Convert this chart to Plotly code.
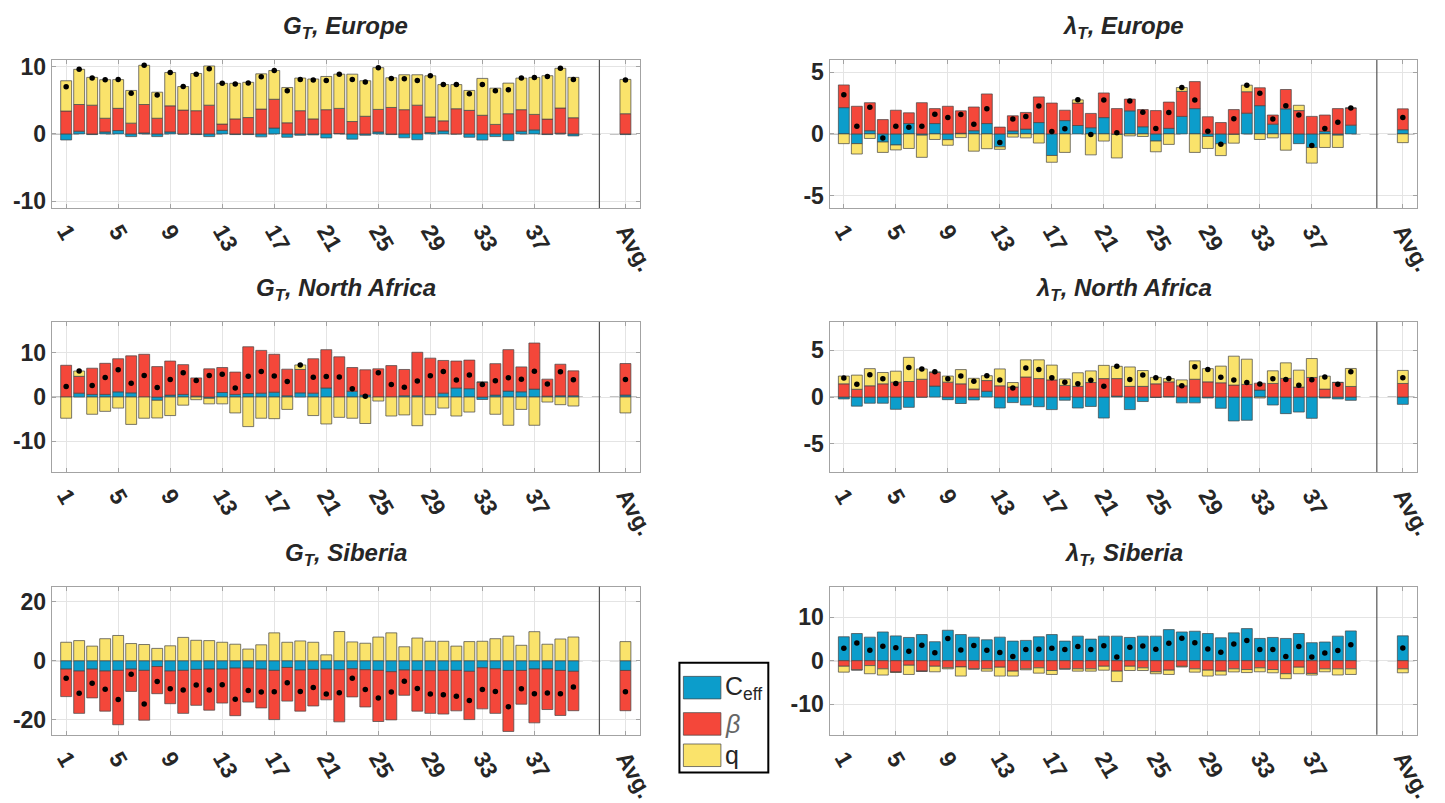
import plotly.graph_objects as go
from plotly.subplots import make_subplots

# ---------------- data (40 models + multi-model average) ----------------
tick_positions = [1, 5, 9, 13, 17, 21, 25, 29, 33, 37, 44]
tick_labels = ["1", "5", "9", "13", "17", "21", "25", "29", "33", "37", "Avg."]
n_models = 40
avg_position = 44
separator_position = 42

# G_T, Europe
ge_ceff = [-0.9, 0.4, -0.1, 0.3, 0.5, -0.4, 0.15, -0.4, 0.3, 0.0, -0.1, -0.4, 0.53, -0.1, -0.1, -0.44, 0.87, -0.5, -0.2, -0.15,
           -0.6, 0.05, -0.78, -0.2, 0.29, -0.1, -0.58, -0.87, 0.2, 0.44, 0.0, -0.5, -0.92, -0.4, -1.0, 0.4, 0.6, -0.1, 0.1, -0.3, -0.1]
ge_beta = [3.4, 3.97, 4.27, 2.03, 3.3, 1.6, 4.22, 2.33, 3.87, 3.54, 3.45, 4.27, 0.93, 2.23, 2.43, 3.69, 4.28, 1.65, 3.45, 2.23,
           3.6, 3.74, 1.84, 2.62, 3.35, 3.93, 3.6, 4.27, 2.32, 1.5, 3.74, 3.5, 2.77, 1.41, 3.0, 3.2, 2.3, 2.2, 3.75, 2.4, 3.0]
ge_q = [4.5, 5.23, 4.13, 5.73, 4.27, 4.86, 5.83, 3.87, 4.96, 3.5, 5.53, 5.83, 6.06, 5.29, 5.24, 5.24, 4.27, 5.25, 4.85, 5.93,
        4.94, 5.09, 7.04, 5.28, 6.21, 4.42, 5.19, 4.52, 6.12, 5.39, 3.59, 2.96, 5.48, 5.39, 4.55, 4.7, 5.5, 6.45, 5.9, 6.0, 5.1]

# lambda_T, Europe
le_ceff = [2.13, -0.79, 0.26, -0.66, -0.9, 0.84, -0.1, 0.84, -0.47, 0.05, 0.26, 0.84, -1.05, 0.24, 0.39, 0.92, -1.75, 1.08, 0.68, 0.5,
           1.32, -0.05, 1.87, 0.58, -0.58, 0.45, 1.42, 2.05, -0.21, -0.8, -0.05, 1.68, 2.29, 0.79, 2.03, -0.79, -1.1, 0.2, -0.1, 0.71, 0.34]
le_beta = [1.84, 2.24, 2.27, 1.16, 1.92, 0.87, 2.53, 1.21, 2.24, 1.82, 1.92, 2.4, 0.55, 1.23, 1.35, 2.08, 2.5, 0.84, 1.82, 1.16,
           2.0, 2.05, 0.95, 1.39, 1.89, 2.13, 2.03, 2.19, 1.39, 0.92, 1.97, 1.74, 1.45, 0.74, 1.57, 1.89, 1.42, 1.33, 2.05, 1.39, 1.69]
le_q = [-0.79, -0.84, -0.37, -0.84, -0.4, -1.18, -1.8, -0.45, -0.45, -0.3, -1.4, -1.2, -0.2, -0.26, -0.32, -0.74, -0.55, -1.5, 0.26, -1.7,
        -0.58, -1.9, -0.16, -0.21, -0.87, -0.85, 0.31, -1.5, -0.97, -0.96, -0.7, 0.53, -0.45, -0.32, -1.32, 0.43, -1.27, -1.1, -1.0, 0.0, -0.71]

# G_T, North Africa
gn_ceff = [0.0, 0.88, 0.6, 0.6, 1.18, 0.96, 0.0, -0.74, 0.44, 0.6, 0.2, -0.3, 1.03, 0.6, 0.8, 0.88, 1.1, 0.3, 0.96, 0.88,
           2.06, 0.0, 1.32, 0.44, 0.0, 0.0, 0.3, 0.3, 0.0, 0.88, 2.06, 1.9, -0.55, 0.44, 1.35, 1.2, 1.8, 0.2, 0.3, 0.3, 0.45]
gn_beta = [7.2, 3.82, 5.94, 7.05, 7.5, 8.38, 9.7, 6.9, 7.72, 6.75, 4.14, 6.4, 5.66, 5.06, 10.6, 9.7, 8.6, 6.02, 5.29, 7.8,
           8.68, 9.12, 5.37, 5.74, 6.4, 7.13, 5.95, 9.85, 8.82, 7.42, 6.1, 6.48, 3.38, 7.13, 9.4, 5.64, 10.45, 3.86, 7.14, 5.64, 7.15]
gn_q = [-4.8, 1.2, -3.9, -3.24, -2.5, -6.2, -4.8, -4.0, -4.2, -1.84, -0.6, -1.24, -1.54, -3.6, -6.7, -4.8, -4.9, -2.8, 1.03, -4.2,
        -6.1, -4.6, -4.8, -6.0, -0.9, -4.3, -4.05, -6.5, -4.0, -2.5, -4.3, -3.4, 0.0, -3.9, -6.4, -2.8, -6.4, -1.13, -1.73, -2.03, -3.6]

# lambda_T, North Africa
ln_ceff = [-0.2, -0.97, -0.66, -0.66, -1.31, -1.1, 0.0, 1.17, -0.28, -0.69, -0.31, 0.62, -1.17, -0.59, -0.86, -1.03, -1.34, -0.34, -1.17, -1.0,
           -2.24, 0.1, -1.34, -0.48, -0.05, 0.05, -0.62, -0.62, -0.1, -1.2, -2.55, -2.48, 0.74, -0.85, -1.77, -1.6, -2.27, -0.1, -0.2, -0.35, -0.78]
ln_beta = [1.41, 0.83, 1.2, 1.41, 1.59, 1.66, 1.9, 1.45, 1.59, 1.41, 0.86, 1.14, 1.2, 1.07, 2.14, 1.97, 1.83, 1.24, 1.14, 1.55,
           1.97, 1.87, 1.14, 1.14, 1.41, 1.57, 1.2, 1.9, 1.62, 1.52, 1.28, 1.35, 0.74, 1.45, 1.99, 1.06, 2.09, 0.85, 1.56, 1.13, 1.45]
ln_q = [0.83, 1.51, 1.83, 1.21, 1.17, 2.58, 1.1, 0.07, 0.65, 1.52, 1.14, 0.52, 1.8, 0.48, 1.83, 2.0, 1.58, 0.69, 1.45, 1.24,
        1.41, 1.31, 2.07, 1.69, 0.69, 0.35, 0.63, 1.96, 1.41, 1.78, 3.08, 2.69, -0.1, 1.35, 1.66, 1.81, 2.02, 1.38, 0.0, 1.92, 1.39]

# G_T, Siberia
gs_ceff = [-2.84, -3.5, -2.84, -3.5, -3.28, -2.84, -3.28, -1.97, -3.5, -3.28, -2.95, -2.84, -2.84, -2.51, -2.51, -2.84, -3.28, -2.3, -3.17, -2.95,
           -2.84, -3.06, -2.73, -3.06, -3.28, -3.72, -3.17, -3.28, -3.39, -3.28, -3.28, -3.6, -2.4, -2.73, -3.3, -3.3, -2.8, -2.8, -3.3, -3.6, -3.3]
gs_beta = [-9.29, -14.3, -9.73, -13.55, -18.36, -7.54, -16.82, -9.18, -11.04, -14.52, -12.13, -13.88, -11.48, -16.07, -11.48, -13.12, -16.62, -11.36, -13.88, -12.35,
           -10.38, -17.6, -9.51, -12.57, -17.27, -16.28, -8.52, -13.77, -14.41, -14.75, -13.66, -16.3, -13.88, -15.07, -20.6, -11.4, -18.2, -13.7, -15.2, -13.3, -13.6]
gs_q = [6.23, 6.78, 4.92, 7.43, 8.52, 5.79, 5.46, 4.15, 5.03, 7.87, 6.89, 6.78, 6.23, 5.57, 3.93, 5.36, 9.4, 6.23, 6.67, 6.23,
        1.97, 9.84, 6.34, 5.9, 7.98, 9.4, 4.7, 7.65, 6.56, 6.56, 4.92, 6.45, 6.56, 7.43, 8.3, 5.2, 9.8, 5.56, 7.33, 8.0, 6.44]

# lambda_T, Siberia
ls_ceff = [5.5, 6.24, 5.41, 6.6, 5.7, 5.34, 6.0, 4.36, 7.0, 6.0, 5.41, 4.8, 5.41, 4.5, 4.66, 5.5, 6.0, 4.5, 5.64, 4.96,
           5.64, 5.64, 5.34, 5.64, 5.64, 7.14, 6.6, 6.77, 6.24, 5.26, 6.39, 7.37, 5.11, 5.34, 5.11, 6.24, 4.14, 4.29, 5.64, 6.84, 5.71]
ls_beta = [-1.28, -2.1, -1.13, -1.88, -2.6, -1.05, -2.4, -1.28, -1.65, -1.43, -1.88, -1.88, -1.5, -2.4, -1.88, -1.65, -2.26, -1.88, -1.88, -1.88,
           -1.28, -2.4, -1.28, -1.65, -2.55, -2.18, -1.3, -1.88, -2.18, -2.4, -1.88, -2.03, -1.65, -2.03, -3.0, -1.5, -2.93, -1.88, -1.88, -1.88, -1.88]
ls_q = [-1.35, -0.05, -1.87, -1.42, -0.1, -2.11, -0.05, -1.27, -0.23, -2.1, -0.05, -0.52, -2.03, -1.13, -0.22, -1.21, -0.9, -0.05, -0.52, -0.52,
        -0.9, -2.4, -0.98, -0.61, -0.45, -0.98, -0.15, -0.75, -1.35, -0.9, -0.7, -0.7, -0.9, -0.75, -1.14, -1.5, -0.37, -0.67, -1.4, -1.28, -0.9]

panels = [
    ("G", "Europe", ge_ceff, ge_beta, ge_q, 11, [-10, 0, 10]),
    ("λ", "Europe", le_ceff, le_beta, le_q, 6, [-5, 0, 5]),
    ("G", "North Africa", gn_ceff, gn_beta, gn_q, 17, [-10, 0, 10]),
    ("λ", "North Africa", ln_ceff, ln_beta, ln_q, 8, [-5, 0, 5]),
    ("G", "Siberia", gs_ceff, gs_beta, gs_q, 25, [-20, 0, 20]),
    ("λ", "Siberia", ls_ceff, ls_beta, ls_q, 17, [-10, 0, 10]),
]

# ---------------- styling ----------------
W, H = 1445, 803
C_BLUE = "#0C9DCB"
C_RED = "#F4473A"
C_YEL = "#FAE36B"
EDGE = "rgba(70,70,70,0.9)"
GRID = "#e4e4e4"
FRAME = "#a3a3a3"
TXT = "#262626"
FONT = "Liberation Sans"

x_pos = list(range(1, n_models + 1)) + [avg_position]

col_px = [(52.5, 647.8), (840.0, 1435.0)]
row_px = [(55.0, 206.0), (322.5, 475.5), (592.5, 743.5)]

fig = make_subplots(rows=3, cols=2)

for idx, (sym, region, ceff, beta, q, ylim, yt) in enumerate(panels):
    r, c = idx // 2 + 1, idx % 2 + 1
    n = idx + 1
    total = [a + b + d for a, b, d in zip(ceff, beta, q)]
    for vals, col in ((ceff, C_BLUE), (beta, C_RED), (q, C_YEL)):
        fig.add_trace(go.Bar(x=x_pos, y=vals, width=0.84, marker=dict(color=col, line=dict(color=EDGE, width=0.8)),
                             showlegend=False, hoverinfo="skip"), row=r, col=c)
    fig.add_trace(go.Scatter(x=x_pos, y=total, mode="markers", marker=dict(color="black", size=5.5),
                             showlegend=False, hoverinfo="skip"), row=r, col=c)

    x0, x1 = col_px[c - 1]
    y0, y1 = row_px[r - 1]
    xa = "xaxis" if n == 1 else f"xaxis{n}"
    ya = "yaxis" if n == 1 else f"yaxis{n}"
    fig.layout[xa].update(domain=[x0 / W, x1 / W], range=[-0.1, 45.1], tickmode="array",
                          tickvals=tick_positions, ticktext=tick_labels, tickangle=60,
                          tickfont=dict(family=FONT, size=23, color=TXT, weight="bold"),
                          showgrid=True, gridcolor=GRID, gridwidth=1, zeroline=False,
                          showline=True, linecolor=FRAME, linewidth=1.2, mirror="ticks",
                          ticks="inside", ticklen=4, tickcolor=FRAME)
    fig.layout[ya].update(domain=[1 - y1 / H, 1 - y0 / H], range=[-ylim, ylim], tickmode="array",
                          tickvals=yt, ticktext=[str(v) for v in yt],
                          tickfont=dict(family=FONT, size=23, color=TXT, weight="bold"),
                          showgrid=True, gridcolor=GRID, gridwidth=1, zeroline=False,
                          showline=True, linecolor=FRAME, linewidth=1.2, mirror="ticks",
                          ticks="inside", ticklen=4, tickcolor=FRAME)

    xr = "x" if n == 1 else f"x{n}"
    yr = "y" if n == 1 else f"y{n}"
    # baseline
    fig.add_shape(type="line", xref=f"{xr} domain", yref=yr, x0=0, x1=1, y0=0, y1=0,
                  line=dict(color="#8a8a8a", width=1.3, dash="dash"), layer="below")
    # separator before average
    fig.add_shape(type="line", xref=xr, yref=f"{yr} domain", x0=separator_position, x1=separator_position, y0=0, y1=1,
                  line=dict(color="#555555", width=1.2))

    # panel title
    fig.add_annotation(x=(x0 + x1) / 2 / W, y=1 - (y0 - 33) / H, xref="paper", yref="paper",
                       text=f"<b><i>{sym}<sub>T</sub>, {region}</i></b>", showarrow=False,
                       font=dict(family=FONT, size=24, color=TXT), xanchor="center", yanchor="middle")

# ---------------- legend (drawn box) ----------------
def px(x):
    return x / W

def py(y):
    return 1 - y / H

fig.add_shape(type="rect", xref="paper", yref="paper", x0=px(688), x1=px(778), y0=py(782), y1=py(670),
              line=dict(color="black", width=2), fillcolor="white")
legend_items = [("C<sub>eff</sub>", C_BLUE, 684, 707, TXT, ""),
                ("β", C_RED, 721, 744, "#666666", "i"),
                ("q", C_YEL, 753, 776, TXT, "")]
for label, col, t, b, tc, style in legend_items:
    fig.add_shape(type="rect", xref="paper", yref="paper", x0=px(692), x1=px(730), y0=py(b), y1=py(t),
                  line=dict(color=EDGE, width=0.8), fillcolor=col)
    txt = f"<i>{label}</i>" if style == "i" else label
    fig.add_annotation(x=px(732), y=py((t + b) / 2), xref="paper", yref="paper", text=txt, showarrow=False,
                       xanchor="left", yanchor="middle", font=dict(family=FONT, size=25, color=tc))

fig.update_layout(width=W, height=H, margin=dict(l=0, r=0, t=0, b=0), barmode="relative",
                  plot_bgcolor="white", paper_bgcolor="white", showlegend=False,
                  font=dict(family=FONT, color=TXT))

fig.write_html("out.html")
